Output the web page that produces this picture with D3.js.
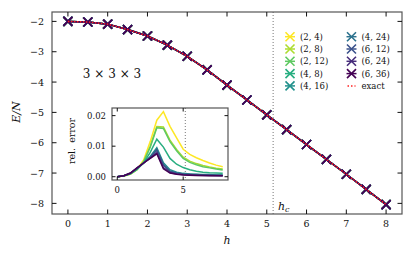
<!DOCTYPE html>
<html>
<head>
<meta charset="utf-8">
<script src="https://cdn.jsdelivr.net/npm/d3@7"></script>
<style>
  body { margin: 0; background: #fff; }
  svg text { font-family: "DejaVu Serif", serif; fill: #111; }
</style>
</head>
<body>
<svg id="chart" width="415" height="258"></svg>
<script>
var svg = d3.select("svg#chart");

// field values (main plot and inset share the grid)
var hs = [0, 0.5, 1, 1.5, 2, 2.5, 3, 3.5, 4, 4.5, 5, 5.5, 6, 6.5, 7, 7.5, 8];
var energy = [-2.00, -2.02, -2.09, -2.27, -2.48, -2.78, -3.15, -3.60, -4.10,
              -4.59, -5.08, -5.57, -6.06, -6.55, -7.04, -7.54, -8.04];
var hc = 5.16;

var labels = ["(2, 4)", "(2, 8)", "(2, 12)", "(4, 8)", "(4, 16)",
              "(4, 24)", "(6, 12)", "(6, 24)", "(6, 36)"];

var relErr = [
  [0, .0002, .0009, .0024, .0055, .0115, .0185, .0213, .0165, .0127, .0090, .0073, .0062, .0053, .0045, .0038, .0033],
  [0, .0002, .0009, .0023, .0050, .0100, .0164, .0163, .0120, .0089, .0064, .0051, .0043, .0037, .0032, .0028, .0025],
  [0, .0002, .0009, .0023, .0049, .0097, .0160, .0158, .0115, .0085, .0060, .0047, .0039, .0033, .0029, .0025, .0022],
  [0, .0003, .0010, .0025, .0045, .0080, .0123, .0097, .0060, .0041, .0030, .0023, .0018, .0015, .0013, .0012, .0011],
  [0, .0003, .0011, .0027, .0045, .0066, .0095, .0046, .0023, .0015, .0011, .0009, .0008, .0007, .0007, .0006, .0006],
  [0, .0003, .0011, .0027, .0045, .0064, .0090, .0041, .0019, .0013, .0009, .0008, .0007, .0006, .0006, .0005, .0005],
  [0, .0003, .0011, .0028, .0045, .0063, .0087, .0038, .0017, .0011, .0008, .0007, .0006, .0005, .0005, .0004, .0004],
  [0, .0003, .0012, .0029, .0045, .0061, .0079, .0030, .0014, .0009, .0007, .0006, .0005, .0004, .0004, .0004, .0003],
  [0, .0003, .0012, .0029, .0045, .0060, .0075, .0026, .0012, .0008, .0006, .0005, .0004, .0004, .0003, .0003, .0003]
];

var xTicks = [0, 1, 2, 3, 4, 5, 6, 7, 8];
var yTicks = [-2, -3, -4, -5, -6, -7, -8];
var insetXTicks = [0, 5];
var insetYTicks = [0, 0.01, 0.02];

var color = function(i) { return d3.interpolateViridis(1 - i / 8); };

var x = d3.scaleLinear().domain([-0.4, 8.4]).range([52, 402]),
    y = d3.scaleLinear().domain([-8.35, -1.69]).range([214, 12]);

function cross(sel, s) {
  return sel.attr("d", "M" + (-s) + "," + (-s) + "L" + s + "," + s + "M" + (-s) + "," + s + "L" + s + "," + (-s));
}

// h_c line
svg.append("line")
  .attr("x1", x(hc)).attr("x2", x(hc)).attr("y1", 12).attr("y2", 214)
  .attr("stroke", "#777").attr("stroke-width", 1).attr("stroke-dasharray", "1,2");

// series
var line = d3.line().x(function(d, i) { return x(hs[i]); }).y(function(d) { return y(d); });
labels.forEach(function(lab, k) {
  var g = svg.append("g");
  g.append("path").attr("d", line(energy)).attr("fill", "none")
    .attr("stroke", color(k)).attr("stroke-width", 1.5);
  g.selectAll("path.m").data(energy).enter().append("path").attr("class", "m")
    .attr("transform", function(d, i) { return "translate(" + x(hs[i]) + "," + y(d) + ")"; })
    .call(cross, 4.5)
    .attr("stroke", color(k)).attr("stroke-width", 1.6).attr("fill", "none");
});
svg.append("path").attr("d", line(energy)).attr("fill", "none")
  .attr("stroke", "#ff2020").attr("stroke-width", 1.5).attr("stroke-dasharray", "1.5,1.5");

// frame + ticks
function frame(sc, x0, x1, y0, y1, xt, yt, len) {
  var g = svg.append("g");
  g.append("rect").attr("x", x0).attr("y", y0).attr("width", x1 - x0).attr("height", y1 - y0)
    .attr("fill", "none").attr("stroke", "#555").attr("stroke-width", 1.2);
  xt.forEach(function(t) {
    var px = sc.x(t);
    g.append("line").attr("x1", px).attr("x2", px).attr("y1", y1).attr("y2", y1 - len).attr("stroke", "#111");
    g.append("line").attr("x1", px).attr("x2", px).attr("y1", y0).attr("y2", y0 + len).attr("stroke", "#111");
  });
  yt.forEach(function(t) {
    var py = sc.y(t);
    g.append("line").attr("x1", x0).attr("x2", x0 + len).attr("y1", py).attr("y2", py).attr("stroke", "#111");
    g.append("line").attr("x1", x1).attr("x2", x1 - len).attr("y1", py).attr("y2", py).attr("stroke", "#111");
  });
  return g;
}
frame({x: x, y: y}, 52, 402, 12, 214, xTicks, yTicks, 4.5);

svg.append("g").selectAll("text").data(xTicks).enter().append("text")
  .attr("x", function(d) { return x(d); }).attr("y", 227)
  .attr("text-anchor", "middle").attr("font-size", 9.5).text(function(d) { return d; });
svg.append("g").selectAll("text").data(yTicks).enter().append("text")
  .attr("x", 44).attr("y", function(d) { return y(d) + 3.5; })
  .attr("text-anchor", "end").attr("font-size", 9.5).text(function(d) { return "\u2212" + Math.abs(d); });

svg.append("text").attr("x", 227).attr("y", 244).attr("text-anchor", "middle")
  .attr("font-size", 11).attr("font-style", "italic").text("h");
svg.append("text").attr("transform", "translate(20,112) rotate(-90)").attr("text-anchor", "middle")
  .attr("font-size", 11).attr("font-style", "italic").text("E/N");
svg.append("text").attr("x", 112).attr("y", 78).attr("text-anchor", "middle")
  .attr("font-size", 12).text("3 \u00d7 3 \u00d7 3");
var hcl = svg.append("text").attr("x", 278).attr("y", 210).attr("font-size", 11).attr("font-style", "italic");
hcl.append("tspan").text("h");
hcl.append("tspan").attr("font-size", 8).attr("dy", 2).text("c");

// legend
var leg = svg.append("g");
labels.concat(["exact"]).forEach(function(lab, k) {
  var col = k < 5 ? 0 : 1, row = k % 5;
  var mx = col ? 351.5 : 290, my = 36.7 + row * 12.3;
  if (lab === "exact") {
    leg.append("line").attr("x1", mx - 4).attr("x2", mx + 4).attr("y1", my).attr("y2", my)
      .attr("stroke", "#ff2020").attr("stroke-width", 1.5).attr("stroke-dasharray", "1.5,2");
  } else {
    leg.append("line").attr("x1", mx - 5).attr("x2", mx + 5).attr("y1", my).attr("y2", my)
      .attr("stroke", color(k)).attr("stroke-width", 1.5);
    leg.append("path").attr("transform", "translate(" + mx + "," + my + ")").call(cross, 4.5)
      .attr("stroke", color(k)).attr("stroke-width", 1.6).attr("fill", "none");
  }
  leg.append("text").attr("x", mx + 10).attr("y", my + 3).attr("font-size", 8.5).text(lab);
});

// inset
var xi = d3.scaleLinear().domain([-0.4, 8.4]).range([112, 228]),
    yi = d3.scaleLinear().domain([-0.00107, 0.0225]).range([180, 108]);
svg.append("rect").attr("x", 112).attr("y", 108).attr("width", 116).attr("height", 72).attr("fill", "#fff");
svg.append("line")
  .attr("x1", xi(hc)).attr("x2", xi(hc)).attr("y1", 108).attr("y2", 180)
  .attr("stroke", "#777").attr("stroke-width", 1).attr("stroke-dasharray", "1,2");
var iline = d3.line().x(function(d, i) { return xi(hs[i]); }).y(function(d) { return yi(d); });
relErr.forEach(function(r, k) {
  svg.append("path").attr("d", iline(r)).attr("fill", "none")
    .attr("stroke", color(k)).attr("stroke-width", 1.5);
});
frame({x: xi, y: yi}, 112, 228, 108, 180, insetXTicks, insetYTicks, 3.5);
svg.append("g").selectAll("text").data(insetXTicks).enter().append("text")
  .attr("x", function(d) { return xi(d); }).attr("y", 193)
  .attr("text-anchor", "middle").attr("font-size", 8.5).text(function(d) { return d; });
svg.append("g").selectAll("text").data(insetYTicks).enter().append("text")
  .attr("x", 106).attr("y", function(d) { return yi(d) + 3; })
  .attr("text-anchor", "end").attr("font-size", 8.5).text(function(d) { return d3.format(".2f")(d); });
svg.append("text").attr("transform", "translate(75,141) rotate(-90)").attr("text-anchor", "middle")
  .attr("font-size", 9.5).attr("word-spacing", 2).text("rel. error");
</script>
</body>
</html>
